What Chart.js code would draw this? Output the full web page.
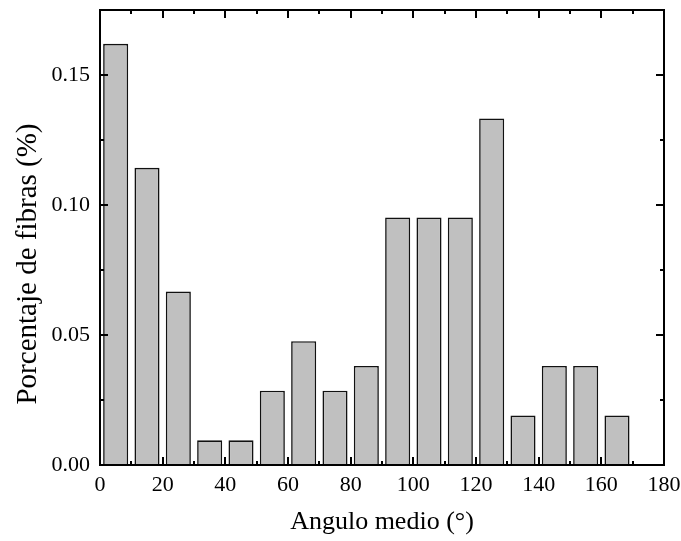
<!DOCTYPE html>
<html>
<head>
<meta charset="utf-8">
<script src="https://cdn.jsdelivr.net/npm/chart.js@4"></script>
<style>
  html, body { margin: 0; padding: 0; background: #fff; }
  #wrap { width: 681px; height: 541px; }
</style>
</head>
<body>
<div id="wrap"><canvas id="c" width="681" height="541"></canvas></div>
<script>
// Bin centres (degrees) and fraction of fibres in each 10° bin
const binCenters = [5, 15, 25, 35, 45, 55, 65, 75, 85, 95, 105, 115, 125, 135, 145, 155, 165, 175];
const fractions  = [0.162, 0.1143, 0.0667, 0.0095, 0.0095, 0.0286, 0.0476, 0.0286, 0.0381, 0.0952, 0.0952, 0.0952, 0.1333, 0.019, 0.0381, 0.0381, 0.019, 0];
const xMajorTicks = [0, 20, 40, 60, 80, 100, 120, 140, 160, 180];
const xMinorTicks = [10, 30, 50, 70, 90, 110, 130, 150, 170];
const yMajorTicks = [0, 0.05, 0.10, 0.15];
const yMinorTicks = [0.025, 0.075, 0.125, 0.175];
const xTitle = 'Angulo medio (°)';
const yTitle = 'Porcentaje de fibras (%)';

const FONT = '"Liberation Serif", "Times New Roman", serif';

const framePlugin = {
  id: 'frame',
  afterDraw(chart) {
    const ctx = chart.ctx;
    const a = chart.chartArea;
    const xs = chart.scales.x, ys = chart.scales.y;
    ctx.save();
    ctx.strokeStyle = '#000';
    ctx.lineWidth = 2;
    ctx.strokeRect(a.left, a.top, a.right - a.left, a.bottom - a.top);
    ctx.beginPath();
    const tick = (vals, len, axis) => {
      vals.forEach(v => {
        if (axis === 'x') {
          const p = Math.round(xs.getPixelForValue(v));
          ctx.moveTo(p, a.bottom); ctx.lineTo(p, a.bottom - len);
          ctx.moveTo(p, a.top); ctx.lineTo(p, a.top + len);
        } else {
          const p = Math.round(ys.getPixelForValue(v));
          ctx.moveTo(a.left, p); ctx.lineTo(a.left + len, p);
          ctx.moveTo(a.right, p); ctx.lineTo(a.right - len, p);
        }
      });
    };
    tick(xMajorTicks, 8, 'x');
    tick(xMinorTicks, 4, 'x');
    tick(yMajorTicks, 8, 'y');
    tick(yMinorTicks, 4, 'y');
    ctx.stroke();
    // axis titles
    ctx.fillStyle = '#000';
    ctx.textAlign = 'center';
    ctx.textBaseline = 'middle';
    ctx.font = '26px ' + FONT;
    ctx.fillText(xTitle, (a.left + a.right) / 2, 522);
    ctx.font = '29px ' + FONT;
    ctx.translate(28, 264);
    ctx.rotate(-Math.PI / 2);
    ctx.fillText(yTitle, 0, 0);
    ctx.restore();
  }
};

new Chart(document.getElementById('c'), {
  type: 'bar',
  data: {
    datasets: [{
      data: binCenters.map((x, i) => ({ x: x, y: fractions[i] })),
      backgroundColor: '#c0c0c0',
      borderColor: '#111',
      borderWidth: 1.6,
      barPercentage: 0.8,
      categoryPercentage: 1.0
    }]
  },
  options: {
    responsive: false,
    animation: false,
    layout: { padding: { top: 10, right: 17, left: 0, bottom: 0 } },
    plugins: { legend: { display: false }, tooltip: { enabled: false } },
    scales: {
      x: {
        type: 'linear',
        offset: false,
        min: 0, max: 180,
        grid: { display: false, drawTicks: false, offset: false },
        border: { display: false },
        afterBuildTicks: s => { s.ticks = xMajorTicks.map(v => ({ value: v })); },
        afterFit: s => { s.height = 76; s.paddingLeft = 0; s.paddingRight = 0; },
        ticks: {
          color: '#000',
          font: { family: FONT, size: 22 },
          padding: 7,
          maxRotation: 0,
          autoSkip: false,
          callback: v => String(v)
        }
      },
      y: {
        min: 0, max: 0.175,
        grid: { display: false, drawTicks: false },
        border: { display: false },
        afterBuildTicks: s => { s.ticks = yMajorTicks.map(v => ({ value: v })); },
        afterFit: s => { s.width = 100; s.paddingTop = 0; s.paddingBottom = 0; },
        ticks: {
          color: '#000',
          font: { family: FONT, size: 22 },
          padding: 10,
          autoSkip: false,
          callback: v => Number(v).toFixed(2)
        }
      }
    }
  },
  plugins: [framePlugin]
});
</script>
</body>
</html>
